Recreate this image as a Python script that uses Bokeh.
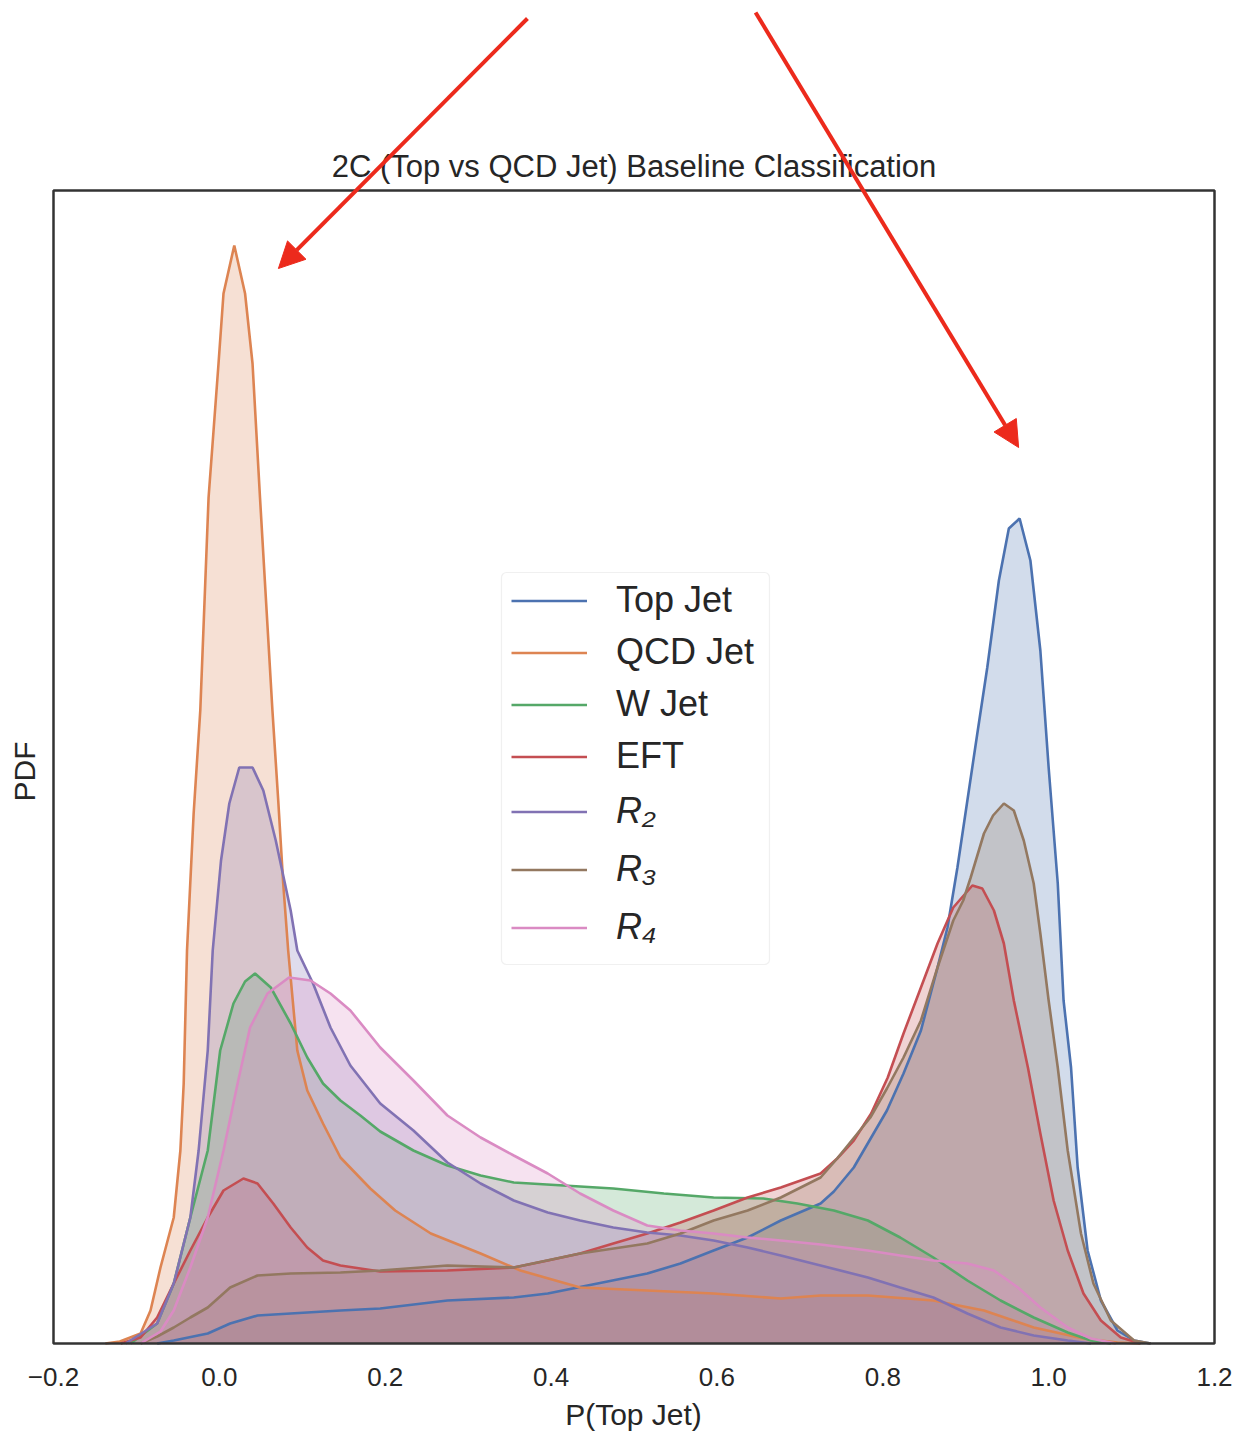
from bokeh.plotting import figure
from bokeh.models import (Range1d, FixedTicker, Legend, LegendItem, Arrow, NormalHead, Label,
                          Title, BoxAnnotation)
from bokeh.embed import file_html
from bokeh.resources import INLINE

# ---------------- data ----------------
series_names = ["Top Jet", "QCD Jet", "W Jet", "EFT", "R₂", "R₃", "R₄"]
series_colors = ["#4C72B0", "#DD8452", "#55A868", "#C44E52", "#8172B3", "#937860", "#DA8BC3"]

title_text = "2C (Top vs QCD Jet) Baseline Classification"
x_label = "P(Top Jet)"
y_label = "PDF"
x_ticks = [-0.2, 0.0, 0.2, 0.4, 0.6, 0.8, 1.0, 1.2]
x_tick_labels = ["−0.2", "0.0", "0.2", "0.4", "0.6", "0.8", "1.0", "1.2"]

top_x = [-0.075, -0.055, -0.014, 0.013, 0.046, 0.086, 0.146, 0.194, 0.275, 0.355, 0.396,
         0.456, 0.516, 0.556, 0.596, 0.637, 0.677, 0.725, 0.741, 0.765, 0.805, 0.825, 0.846,
         0.866, 0.878, 0.890, 0.902, 0.914, 0.926, 0.940, 0.952, 0.965, 0.978, 0.990, 1.000,
         1.011, 1.018, 1.027, 1.035, 1.047, 1.063, 1.083, 1.103, 1.123]
top_y = [0.0, 0.03, 0.10, 0.20, 0.28, 0.30, 0.33, 0.35, 0.43, 0.46, 0.50,
         0.60, 0.70, 0.80, 0.93, 1.06, 1.23, 1.40, 1.52, 1.76, 2.33, 2.70, 3.13,
         3.76, 4.16, 4.76, 5.43, 6.10, 6.76, 7.63, 8.15, 8.25, 7.83, 6.93, 5.76,
         4.60, 3.43, 2.76, 1.76, 0.93, 0.43, 0.13, 0.03, 0.0]

qcd_x = [-0.1375, -0.12, -0.095, -0.083, -0.071, -0.055, -0.047, -0.043, -0.039, -0.031,
         -0.023, -0.013, -0.007, -0.001, 0.005, 0.018, 0.031, 0.040, 0.049, 0.064, 0.071,
         0.077, 0.083, 0.094, 0.106, 0.125, 0.146, 0.182, 0.212, 0.255, 0.315, 0.363, 0.435,
         0.516, 0.596, 0.677, 0.725, 0.782, 0.861, 0.922, 0.982, 1.042, 1.083, 1.11]
qcd_y = [0.0, 0.02, 0.10, 0.33, 0.76, 1.26, 1.93, 2.60, 3.93, 5.30,
         6.33, 8.46, 9.13, 9.80, 10.50, 10.98, 10.50, 9.80, 8.46, 6.33, 5.43,
         4.60, 3.93, 2.93, 2.53, 2.20, 1.86, 1.55, 1.33, 1.10, 0.90, 0.73, 0.56,
         0.53, 0.50, 0.45, 0.48, 0.48, 0.43, 0.33, 0.16, 0.05, 0.01, 0.0]

w_x = [-0.107, -0.075, -0.055, -0.035, -0.014, 0.001, 0.017, 0.031, 0.043, 0.062, 0.086,
       0.106, 0.125, 0.146, 0.170, 0.194, 0.234, 0.275, 0.315, 0.355, 0.415, 0.475, 0.536,
       0.596, 0.656, 0.697, 0.741, 0.782, 0.821, 0.861, 0.902, 0.942, 0.982, 1.023, 1.051, 1.075]
w_y = [0.0, 0.20, 0.60, 1.26, 1.93, 2.93, 3.40, 3.62, 3.70, 3.56, 3.20,
       2.86, 2.60, 2.43, 2.28, 2.12, 1.93, 1.78, 1.68, 1.61, 1.58, 1.55, 1.50,
       1.46, 1.45, 1.40, 1.33, 1.23, 1.06, 0.86, 0.63, 0.43, 0.26, 0.11, 0.03, 0.0]

eft_x = [-0.119, -0.095, -0.075, -0.055, -0.035, -0.014, 0.005, 0.029, 0.046, 0.065, 0.086,
         0.106, 0.125, 0.146, 0.194, 0.275, 0.355, 0.396, 0.435, 0.475, 0.516, 0.556, 0.596,
         0.637, 0.677, 0.725, 0.745, 0.765, 0.786, 0.806, 0.825, 0.846, 0.866, 0.885, 0.908,
         0.920, 0.934, 0.946, 0.958, 0.975, 0.990, 1.006, 1.023, 1.042, 1.063, 1.087, 1.111]
eft_y = [0.0, 0.06, 0.26, 0.60, 0.93, 1.26, 1.53, 1.65, 1.60, 1.40, 1.16,
         0.96, 0.83, 0.78, 0.72, 0.73, 0.76, 0.83, 0.90, 1.00, 1.10, 1.21, 1.33,
         1.46, 1.56, 1.70, 1.85, 2.03, 2.30, 2.66, 3.10, 3.56, 4.00, 4.36, 4.58,
         4.55, 4.33, 4.00, 3.43, 2.76, 2.10, 1.43, 0.93, 0.50, 0.23, 0.06, 0.0]

r2_x = [-0.113, -0.075, -0.055, -0.035, -0.025, -0.014, -0.008, 0.002, 0.012, 0.024, 0.040,
        0.053, 0.068, 0.086, 0.094, 0.113, 0.134, 0.158, 0.194, 0.234, 0.275, 0.315, 0.355,
        0.396, 0.435, 0.475, 0.516, 0.556, 0.596, 0.637, 0.677, 0.725, 0.782, 0.821, 0.861,
        0.902, 0.942, 0.982, 1.023, 1.051]
r2_y = [0.0, 0.20, 0.60, 1.26, 1.93, 2.93, 3.93, 4.83, 5.40, 5.76, 5.76,
        5.53, 5.03, 4.33, 3.93, 3.60, 3.16, 2.78, 2.40, 2.13, 1.81, 1.60, 1.43,
        1.31, 1.23, 1.16, 1.11, 1.08, 1.03, 0.96, 0.88, 0.78, 0.66, 0.56, 0.46,
        0.30, 0.16, 0.08, 0.03, 0.0]

r3_x = [-0.095, -0.075, -0.055, -0.035, -0.014, 0.013, 0.046, 0.086, 0.146, 0.194, 0.275,
        0.355, 0.435, 0.516, 0.556, 0.596, 0.637, 0.677, 0.725, 0.745, 0.785, 0.805, 0.825,
        0.846, 0.866, 0.885, 0.897, 0.906, 0.922, 0.933, 0.946, 0.958, 0.970, 0.982, 0.990,
        1.000, 1.011, 1.023, 1.039, 1.054, 1.075, 1.103, 1.123]
r3_y = [0.0, 0.07, 0.16, 0.26, 0.36, 0.56, 0.68, 0.70, 0.71, 0.73, 0.78,
        0.76, 0.90, 1.00, 1.10, 1.23, 1.33, 1.46, 1.66, 1.85, 2.26, 2.55, 2.86,
        3.23, 3.76, 4.23, 4.43, 4.66, 5.10, 5.28, 5.40, 5.33, 5.03, 4.60, 4.10,
        3.43, 2.76, 1.93, 1.10, 0.60, 0.23, 0.03, 0.0]

r4_x = [-0.095, -0.071, -0.055, -0.035, -0.014, 0.005, 0.022, 0.037, 0.058, 0.084, 0.110,
        0.134, 0.158, 0.194, 0.234, 0.275, 0.315, 0.355, 0.396, 0.435, 0.475, 0.516, 0.556,
        0.596, 0.637, 0.677, 0.725, 0.782, 0.821, 0.861, 0.902, 0.934, 0.963, 0.990, 1.023,
        1.051, 1.081]
r4_y = [0.0, 0.12, 0.33, 0.76, 1.26, 1.93, 2.60, 3.16, 3.50, 3.66, 3.63,
        3.50, 3.33, 2.96, 2.63, 2.28, 2.06, 1.88, 1.70, 1.50, 1.33, 1.18, 1.13,
        1.10, 1.06, 1.03, 0.99, 0.93, 0.88, 0.83, 0.80, 0.73, 0.56, 0.36, 0.16,
        0.05, 0.0]

series_x = [top_x, qcd_x, w_x, eft_x, r2_x, r3_x, r4_x]
series_y = [top_y, qcd_y, w_y, eft_y, r2_y, r3_y, r4_y]

# annotation arrows (x0, y0, x1, y1) in data units
arrow_coords = [(0.3715, 13.25, 0.0712, 10.75), (0.6466, 13.31, 0.9638, 8.96)]

# ---------------- layout (pixels) ----------------
FONT = "Liberation Sans"
TXT = "#262626"
W, H = 1238, 1435
AX_LEFT_PX, AX_RIGHT_PX = 53, 1214       # where x=-0.2 and x=1.2 fall
BASE_PX = 1343                           # where y=0 falls
FL, FR = 40, W - 12                      # frame left / right
BOTTOM_BORDER = 90
FB = H - BOTTOM_BORDER                   # frame bottom (frame top is 0)
PX_PER_X = (AX_RIGHT_PX - AX_LEFT_PX) / 1.4
PX_PER_Y = 100.0
Y_TOP = 11.53                            # top of the axes box
YLABEL_BOTTOM_PX = 801                   # lower end of the rotated "PDF"


def px_x(px):
    return -0.2 + (px - AX_LEFT_PX) / PX_PER_X


def px_y(py):
    return (BASE_PX - py) / PX_PER_Y


p = figure(width=W, height=H, x_range=Range1d(px_x(FL), px_x(FR)),
           y_range=Range1d(px_y(FB), px_y(0)),
           output_backend="svg", toolbar_location=None, y_axis_location=None,
           min_border_left=FL, min_border_right=W - FR, min_border_top=0,
           min_border_bottom=BOTTOM_BORDER)
p.background_fill_color = "white"
p.border_fill_color = "white"
p.grid.visible = False
p.outline_line_color = None

xa = p.xaxis[0]
xa.ticker = FixedTicker(ticks=x_ticks)
xa.major_label_overrides = {t: l for t, l in zip(x_ticks, x_tick_labels)}
xa.major_label_text_font = FONT
xa.major_label_text_font_size = "26px"
xa.major_label_text_color = TXT
xa.major_label_standoff = 16
xa.major_tick_line_color = None
xa.minor_tick_line_color = None
xa.axis_line_color = None
xa.axis_label = x_label
xa.axis_label_text_font = FONT
xa.axis_label_text_font_size = "30px"
xa.axis_label_text_font_style = "normal"
xa.axis_label_text_color = TXT
xa.axis_label_standoff = 9

# y label as a side title, placed at the middle of the axes box
p.add_layout(Title(text=y_label, align="left", offset=FB - YLABEL_BOTTOM_PX, standoff=0,
                   text_font=FONT, text_font_size="30px", text_font_style="normal",
                   text_color=TXT), "left")

# fills first (matplotlib zorder 1), then lines (zorder 2)
for xs, ys, c in zip(series_x, series_y, series_colors):
    p.varea(x=xs, y1=[0] * len(xs), y2=ys, fill_color=c, fill_alpha=0.25)

lines = []
for xs, ys, c in zip(series_x, series_y, series_colors):
    lines.append(p.line(xs, ys, line_color=c, line_width=2.6))

# axes box (spines)
p.quad(left=[-0.2], right=[1.2], bottom=[0], top=[Y_TOP], fill_color=None,
       line_color="#333333", line_width=2.5)

# title
p.add_layout(Label(x=0.5, y=Y_TOP + 24 / PX_PER_Y, text=title_text, text_align="center",
                   text_baseline="middle", text_font=FONT, text_font_size="31px",
                   text_color=TXT))

# legend frame
p.add_layout(BoxAnnotation(left=px_x(501), right=px_x(769), top=px_y(572), bottom=px_y(964),
                           fill_color="white", fill_alpha=0.8, line_color="#cccccc",
                           line_width=1.2, border_radius=5))

legend_kw = dict(glyph_width=76, glyph_height=45, label_height=45, label_standoff=29,
                 padding=0, margin=0, border_line_alpha=0.0, background_fill_alpha=0.0,
                 label_text_font=FONT, label_text_font_size="36px", label_text_color=TXT)

# first four entries: row pitch 52 px, first row centred at y=600 px
leg1 = Legend(items=[LegendItem(label=series_names[i], renderers=[lines[i]]) for i in range(4)],
              location=(511 - FL, FB - (600 - 22.5 + 4 * 45 + 3 * 7)), spacing=7, **legend_kw)
p.add_layout(leg1)
# R entries: row pitch 58 px, first row centred at y=811 px
leg2 = Legend(items=[LegendItem(label=series_names[i], renderers=[lines[i]]) for i in range(4, 7)],
              location=(511 - FL, FB - (811 - 22.5 + 3 * 45 + 2 * 13)), spacing=13,
              label_text_font_style="italic", **legend_kw)
p.add_layout(leg2)

for (x0, y0, x1, y1) in arrow_coords:
    p.add_layout(Arrow(end=NormalHead(size=26, fill_color="#EC2A1C", line_color="#EC2A1C"),
                       x_start=x0, y_start=y0, x_end=x1, y_end=y1,
                       line_color="#EC2A1C", line_width=4))

open("out.html", "w").write(file_html(p, INLINE))
